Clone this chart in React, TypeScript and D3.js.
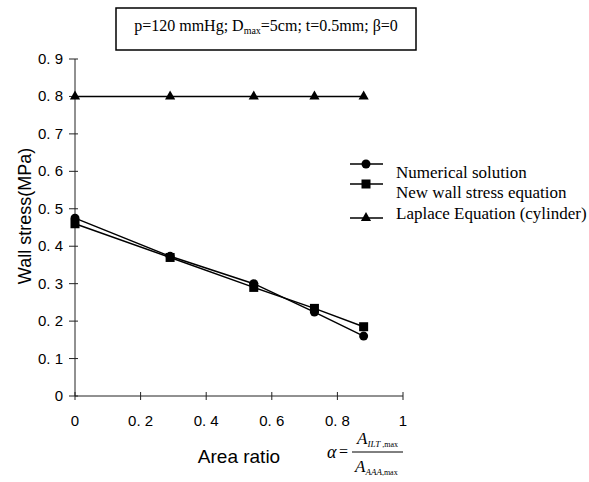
import React, { useEffect, useRef } from "react";
import * as d3 from "d3";

// area ratio (x) and wall stress in MPa (y)
const areaRatio = [0, 0.29, 0.545, 0.73, 0.88];
const numerical = [0.475, 0.373, 0.3, 0.224, 0.16];
const newEquation = [0.46, 0.37, 0.29, 0.234, 0.185];
const laplace = [0.8, 0.8, 0.8, 0.8, 0.8];

const xTicks = [0, 0.2, 0.4, 0.6, 0.8, 1];
const yTicks = [0, 0.1, 0.2, 0.3, 0.4, 0.5, 0.6, 0.7, 0.8, 0.9];

const seriesNames = [
  "Numerical solution",
  "New wall stress equation",
  "Laplace Equation (cylinder)",
];
const seriesMarkers = ["circle", "square", "triangle"];

const W = 589;
const H = 482;

export default function App() {
  const ref = useRef<SVGSVGElement>(null);

  useEffect(() => {
    const svg = d3.select(ref.current);
    svg.selectAll("*").remove();

    const x = d3.scaleLinear().domain([0, 1]).range([75, 403]);
    const y = d3.scaleLinear().domain([0, 0.9]).range([396, 59]);

    const sans = "'Liberation Sans', Arial, sans-serif";
    const serif = "'Liberation Serif', 'Times New Roman', serif";
    const fmt = (v: number) => (v === 0 || v === 1 ? String(v) : d3.format(".1f")(v).replace(".", ". "));

    // axes
    const g = svg.append("g");
    g.append("line")
      .attr("x1", x(0)).attr("x2", x(1))
      .attr("y1", y(0)).attr("y2", y(0))
      .attr("stroke", "#222").attr("stroke-width", 1);
    g.append("line")
      .attr("x1", x(0)).attr("x2", x(0))
      .attr("y1", y(0)).attr("y2", y(0.9))
      .attr("stroke", "#222").attr("stroke-width", 1);

    yTicks.forEach(t => {
      g.append("line")
        .attr("x1", x(0) - 6).attr("x2", x(0) + 3)
        .attr("y1", y(t)).attr("y2", y(t))
        .attr("stroke", "#222");
      g.append("text")
        .attr("x", x(0) - 12).attr("y", y(t) + 5)
        .attr("text-anchor", "end")
        .attr("font-family", sans).attr("font-size", 15)
        .text(fmt(t));
    });
    xTicks.forEach(t => {
      g.append("line")
        .attr("x1", x(t)).attr("x2", x(t))
        .attr("y1", y(0) - 4).attr("y2", y(0) + 4)
        .attr("stroke", "#222");
      g.append("text")
        .attr("x", x(t)).attr("y", y(0) + 30)
        .attr("text-anchor", "middle")
        .attr("font-family", sans).attr("font-size", 15)
        .text(fmt(t));
    });

    g.append("text")
      .attr("transform", "translate(31,216) rotate(-90)")
      .attr("text-anchor", "middle")
      .attr("font-family", sans).attr("font-size", 18)
      .text("Wall stress(MPa)");
    g.append("text")
      .attr("x", 239).attr("y", 463)
      .attr("text-anchor", "middle")
      .attr("font-family", sans).attr("font-size", 19)
      .text("Area ratio");

    // markers
    const drawMarker = (sel: any, kind: string, cx: number, cy: number) => {
      if (kind === "circle") {
        sel.append("circle").attr("cx", cx).attr("cy", cy).attr("r", 4.5).attr("fill", "#000");
      } else if (kind === "square") {
        sel.append("rect").attr("x", cx - 4.5).attr("y", cy - 4.5).attr("width", 9).attr("height", 9).attr("fill", "#000");
      } else {
        sel.append("path")
          .attr("d", d3.symbol().type(d3.symbolTriangle).size(45)())
          .attr("transform", `translate(${cx},${cy})`)
          .attr("fill", "#000");
      }
    };

    const series = [numerical, newEquation, laplace];
    const line = d3.line<number>().x((_, i) => x(areaRatio[i])).y(d => y(d));
    series.forEach((vals, si) => {
      g.append("path")
        .attr("d", line(vals))
        .attr("fill", "none")
        .attr("stroke", "#000")
        .attr("stroke-width", 1.5);
      vals.forEach((v, i) => drawMarker(g, seriesMarkers[si], x(areaRatio[i]), y(v)));
    });

    // legend
    const legY = [164, 184, 218];
    const legTextY = [178, 198, 219];
    seriesNames.forEach((name, i) => {
      g.append("line")
        .attr("x1", 350).attr("x2", 383)
        .attr("y1", legY[i]).attr("y2", legY[i])
        .attr("stroke", "#000").attr("stroke-width", 1.5);
      drawMarker(g, seriesMarkers[i], 366, legY[i]);
      g.append("text")
        .attr("x", 396).attr("y", legTextY[i])
        .attr("font-family", serif).attr("font-size", 17)
        .text(name);
    });

    // parameter box
    g.append("rect")
      .attr("x", 116).attr("y", 8).attr("width", 300).attr("height", 42)
      .attr("fill", "#fff").attr("stroke", "#000").attr("stroke-width", 1.5);
    const t = g.append("text")
      .attr("x", 266).attr("y", 31)
      .attr("text-anchor", "middle")
      .attr("font-family", serif).attr("font-size", 16);
    t.append("tspan").text("p=120 mmHg; D");
    t.append("tspan").attr("font-size", 10).attr("dy", 3).text("max");
    t.append("tspan").attr("dy", -3).text("=5cm; t=0.5mm; \u03b2=0");

    // alpha formula
    const f = g.append("g").attr("font-family", serif).attr("font-style", "italic");
    f.append("text").attr("x", 327).attr("y", 458).attr("font-size", 18).text("\u03b1");
    f.append("text").attr("x", 339).attr("y", 457).attr("font-size", 16).attr("font-style", "normal").text("=");
    f.append("line")
      .attr("x1", 352).attr("x2", 403).attr("y1", 452).attr("y2", 452)
      .attr("stroke", "#000").attr("stroke-width", 1);
    const num = f.append("text").attr("x", 357).attr("y", 444).attr("font-size", 17);
    num.append("tspan").text("A");
    num.append("tspan").attr("font-size", 9).attr("dy", 3).text("ILT");
    num.append("tspan").attr("font-size", 8).attr("font-style", "normal").text(" ,max");
    const den = f.append("text").attr("x", 355).attr("y", 472).attr("font-size", 17);
    den.append("tspan").text("A");
    den.append("tspan").attr("font-size", 9).attr("dy", 3).text("AAA");
    den.append("tspan").attr("font-size", 8).attr("font-style", "normal").text(",max");
  }, []);

  return (
    <svg ref={ref} width={W} height={H} style={{ position: "absolute", left: 0, top: 0, background: "#fff" }} />
  );
}
